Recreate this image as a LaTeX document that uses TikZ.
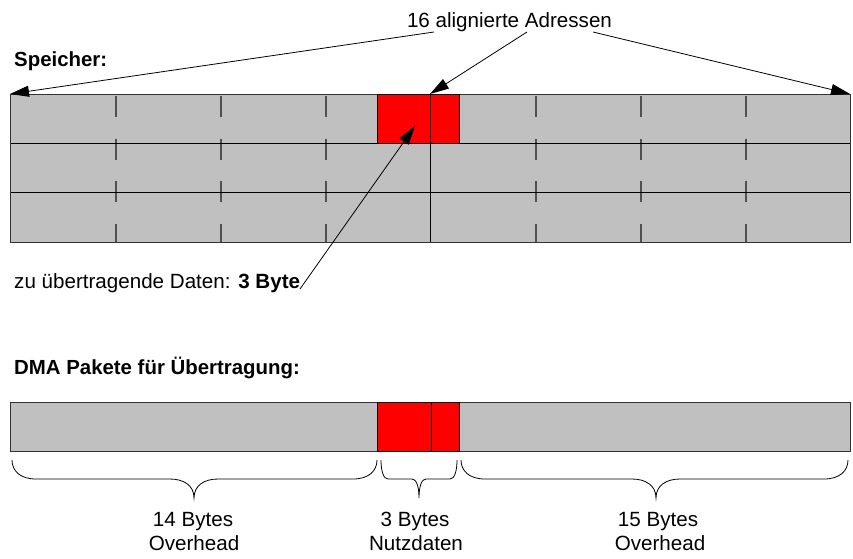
\documentclass[tikz,border=0pt]{standalone}
\usepackage{fontspec}
\setmainfont{Liberation Sans}
\usetikzlibrary{arrows.meta}
\definecolor{memgray}{RGB}{192,192,192}
\definecolor{edgegray}{RGB}{50,50,50}
\definecolor{tickgray}{RGB}{80,80,80}

% curly brace below the packet: #1 left end, #2 right end, #3 tip, #4 curl width
\newcommand\bytebrace[4]{%
  \draw[brace] (#1,460) .. controls (#1,471) and ({#1+0.35*#4},479) .. ({#1+#4},479)
    -- ({#3-#4},479) .. controls ({#3-0.45*#4},479) and (#3,485) .. (#3,498)
    .. controls (#3,485) and ({#3+0.45*#4},479) .. ({#3+#4},479)
    -- ({#2-#4},479) .. controls ({#2-0.35*#4},479) and (#2,471) .. (#2,460);
}

\begin{document}
\begin{tikzpicture}[x=1pt,y=-1pt,
  lbl/.style={font=\fontsize{20.6}{24}\selectfont, inner sep=0pt},
  hdr/.style={font=\fontsize{20.4}{24}\selectfont\bfseries, inner sep=0pt},
  edge/.style={draw=edgegray, line width=0.9pt},
  rowline/.style={draw=black, line width=0.9pt},
  tick/.style={draw=tickgray, line width=1.2pt, dash pattern=on 21pt off 21.5pt},
  pointer/.style={draw=black, line width=0.8pt, -{Triangle[length=19pt,width=11pt]}},
  brace/.style={draw=black, line width=0.8pt}
]
\useasboundingbox (0,0) rectangle (853,558);

% ---------- memory ----------
\node[hdr, anchor=base west] (speicher) at (14,66.7) {Speicher:};

\fill[memgray] (10,94) rectangle (850,242);
\fill[red] (377,94) rectangle (459,143);
\foreach \x in {116,221,326,536,641,746}
  \draw[tick] (\x,96) -- (\x,242);
\draw[rowline] (10,143) -- (850,143);
\draw[rowline] (10,192.5) -- (850,192.5);
\draw[rowline] (430,94) -- (430,242);
\draw[edge] (10,94) rectangle (850,242);
\draw[rowline] (377,94) rectangle (459,143);

\coordinate (memNW) at (10,94);
\coordinate (memNE) at (850,94);
\coordinate (memMid) at (430,94);
\coordinate (dataIn) at (415,126);

% ---------- address label and pointers ----------
\node[lbl, anchor=base] (addr) at (509.5,27.3) {16 alignierte Adressen};
\coordinate (addrL) at (434,32);
\coordinate (addrM) at (527,32);
\coordinate (addrR) at (593,32);
\draw[pointer] (addrL) -- (memNW);
\draw[pointer] (addrR) -- (memNE);
\draw[pointer] (addrM) -- (memMid);

% ---------- data label ----------
\node[lbl, anchor=base west] (data) at (14,288.3) {zu übertragende Daten: \textbf{3 Byte}};
\coordinate (dataEnd) at (300,289);
\draw[pointer] (dataEnd) -- (dataIn);

% ---------- DMA packet ----------
\node[hdr, anchor=base west] (dma) at (14,374.5) {DMA Pakete für Übertragung:};

\fill[memgray] (10,402) rectangle (850,451);
\fill[red] (377,402) rectangle (459.5,451);
\draw[rowline] (431,402) -- (431,451);
\draw[edge] (10,402) rectangle (850,451);
\draw[rowline] (377,402) rectangle (459.5,451);

\bytebrace{12}{377}{194}{24}
\bytebrace{381}{457}{419}{7}
\bytebrace{461}{848}{656}{24}

\node[lbl, anchor=base] (ohA1) at (193,526.5) {14 Bytes};
\node[lbl, anchor=base] (ohA2) at (194,550.5) {Overhead};
\node[lbl, anchor=base] (nd1) at (415,526.5) {3 Bytes};
\node[lbl, anchor=base] (nd2) at (416,550.5) {Nutzdaten};
\node[lbl, anchor=base] (ohB1) at (658,526.5) {15 Bytes};
\node[lbl, anchor=base] (ohB2) at (660,550.5) {Overhead};
\end{tikzpicture}
\end{document}
